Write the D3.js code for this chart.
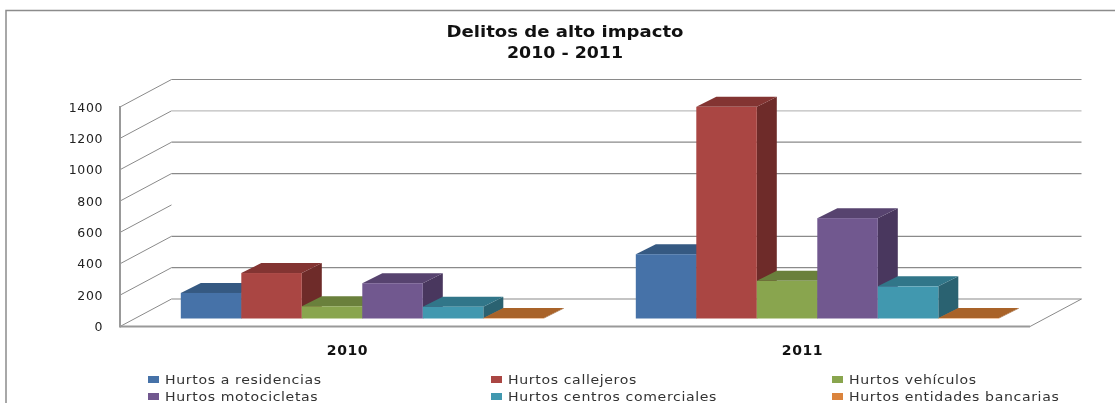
<!DOCTYPE html>
<html><head><meta charset="utf-8">
<script src="https://cdn.jsdelivr.net/npm/d3@7"></script>
<style>html,body{margin:0;padding:0;background:#fff}svg{display:block;filter:blur(0.4px)}text{font-family:"DejaVu Sans",sans-serif;fill:#111}</style>
</head><body><svg id="c" width="1115" height="403"></svg>
<script>
const categories = ["2010","2011"];
const seriesNames = ["Hurtos a residencias","Hurtos callejeros","Hurtos vehículos","Hurtos motocicletas","Hurtos centros comerciales","Hurtos entidades bancarias"];
const seriesFront = ["#4672a8","#aa4643","#89a54e","#71588f","#4198af","#db843d"];
const seriesTop = ["#355982","#833432","#6a803c","#57436f","#317689","#a96329"];
const seriesSide = ["#2b4a6e","#6e2b29","#566832","#49375e","#2a6271","#8a5021"];
const values2010 = [163,290,78,225,75,3];
const values2011 = [410,1350,240,640,205,3];
const allValues = [values2010,values2011];
const yTicks = [0,200,400,600,800,1000,1200,1400];
const missingBackGrid = [600];
const titleLines = ["Delitos de alto impacto","2010 - 2011"];

const svg = d3.select("#c");
const W=1115,H=403;
const left=120,right=1030,floorY=326.5,topY=107;
const depthX=51.5,depthY=27.5;
const y=d3.scaleLinear().domain([0,1400]).range([floorY,topY]);
const x0=d3.scaleBand().domain(categories).range([left,right]);
const barShiftX=14.8,barShiftY=8;
const barDX=20,barDY=10;
const groupW=363;
const x1=d3.scaleBand().domain(d3.range(seriesNames.length)).range([0,groupW]);

// border
svg.append("path").attr("d",`M6,${H}V10.5H${W}`).attr("fill","none").attr("stroke","#8c8c8c").attr("stroke-width",1.5);

// walls
const g=svg.append("g");
yTicks.forEach((t,k)=>{
  const yy=y(t);
  g.append("line").attr("x1",left).attr("y1",yy).attr("x2",left+depthX).attr("y2",yy-depthY).attr("stroke","#8a8a8a");
  if(!missingBackGrid.includes(t))
    g.append("line").attr("x1",left+depthX).attr("y1",yy-depthY).attr("x2",right+depthX).attr("y2",yy-depthY).attr("stroke",t===1200?"#bdbdbd":"#8a8a8a").attr("stroke-width",1.2);
});
g.append("line").attr("x1",right).attr("y1",floorY).attr("x2",right+depthX).attr("y2",floorY-depthY).attr("stroke","#8a8a8a");
g.append("line").attr("x1",left).attr("y1",topY-1).attr("x2",left).attr("y2",floorY+1).attr("stroke","#999").attr("stroke-width",2);
g.append("line").attr("x1",left).attr("y1",floorY).attr("x2",right).attr("y2",floorY).attr("stroke","#999").attr("stroke-width",2);

// bars
categories.forEach((c,ci)=>{
  const gx=x0(c)+x0.bandwidth()/2+barShiftX-groupW/2;
  allValues[ci].forEach((v,i)=>{
    const xa=gx+x1(i),w=x1.bandwidth(),base=y(0)-barShiftY;
    const h=y(0)-y(v),t=base-h;
    svg.append("path").attr("fill",seriesSide[i])
      .attr("d",`M${xa+w},${t}L${xa+w+barDX},${t-barDY}V${base-barDY}L${xa+w},${base}Z`);
    svg.append("path").attr("fill",seriesTop[i])
      .attr("d",`M${xa},${t}L${xa+barDX},${t-barDY}H${xa+w+barDX}L${xa+w},${t}Z`);
    svg.append("rect").attr("x",xa).attr("y",t).attr("width",w).attr("height",h).attr("fill",seriesFront[i]);
  });
});

// y axis labels
const yAxis=d3.axisLeft(y).tickValues(yTicks).tickSize(0).tickPadding(0).tickFormat(d3.format("d"));
const ya=svg.append("g").attr("transform","translate(103,0)").call(yAxis);
ya.select(".domain").remove();
ya.selectAll("text").attr("font-size",12.5).attr("letter-spacing",0.6).style("font-family",'"DejaVu Sans",sans-serif').style("fill","#222");

// category labels
const xAxis=d3.axisBottom(x0).tickSize(0).tickPadding(0);
const xa=svg.append("g").attr("transform","translate(0,345)").call(xAxis);
xa.select(".domain").remove();
xa.selectAll("text").attr("font-size",14).attr("letter-spacing",0.6).attr("font-weight","bold").style("font-family",'"DejaVu Sans",sans-serif');

// title
const titleBase=[37,58],titleLen=[237,116];
titleLines.forEach((s,i)=>{
  svg.append("text").attr("x",565).attr("y",titleBase[i]).attr("text-anchor","middle").attr("font-size",15).attr("font-weight","bold")
    .attr("textLength",titleLen[i]).attr("lengthAdjust","spacingAndGlyphs").text(s);
});

// legend
const legX=[148,491,832],legY=[381,398];
seriesNames.forEach((n,i)=>{
  const lx=legX[i%3],ly=legY[Math.floor(i/3)];
  svg.append("rect").attr("x",lx).attr("y",ly-5).attr("width",11).attr("height",7).attr("fill",seriesFront[i]);
  svg.append("text").attr("transform",`translate(${lx+17},${ly+3}) scale(1.13,1)`).attr("font-size",12.5).attr("letter-spacing",0.55).style("fill","#333").text(n);
});
</script></body></html>
